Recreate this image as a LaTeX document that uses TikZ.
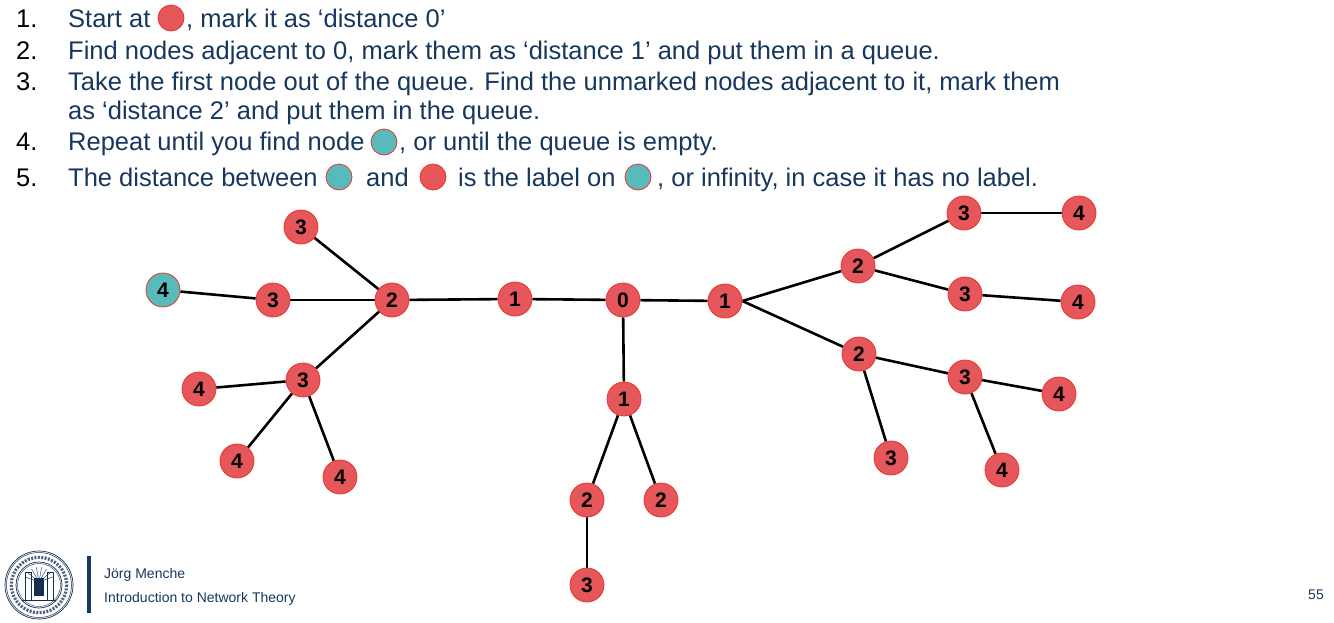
\documentclass[tikz,border=0pt]{standalone}
\usepackage{fontspec}
\setmainfont{Liberation Sans}
\usetikzlibrary{backgrounds}
\definecolor{tx}{HTML}{17375E}
\definecolor{rd}{HTML}{E5575B}
\definecolor{rdl}{HTML}{E8352B}
\definecolor{tl}{HTML}{58BBBB}
\tikzset{
 x=1pt,y=-1pt,
 rn/.style={circle,draw=rdl,fill=rd,line width=.8pt,minimum size=34pt,inner sep=0pt,font=\fontsize{21}{21}\selectfont\bfseries,text=black},
 tn/.style={rn,fill=tl},
 ir/.style={circle,draw=rdl,fill=rd,line width=.8pt,minimum size=26pt,inner sep=0pt},
 it/.style={ir,fill=tl},
 itb/.style={ir,fill=tl,draw=rdl},
 num/.style={anchor=base west,inner sep=0pt,font=\fontsize{25.5}{25.5}\selectfont,text=black},
 body/.style={anchor=base west,inner sep=0pt,font=\fontsize{25.5}{25.5}\selectfont,text=tx},
 foot/.style={anchor=base west,inner sep=0pt,font=\fontsize{14}{14}\selectfont,text=tx},
 edge/.style={line width=2.6pt,black},
 seal/.style={draw=tx!85!black,line width=.7pt}
}
\begin{document}
\begin{tikzpicture}
\useasboundingbox (0,0) rectangle (1334,622);
% text
\node[num] (n1) at (16,27) {1.};
\node[num] (n2) at (16,59) {2.};
\node[num] (n3) at (16,90) {3.};
\node[num] (n4) at (16,150) {4.};
\node[num] (n5) at (16,186) {5.};
\node[body] (t1a) at (68,27) {Start at};
\node[ir] (c1) at (171,18) {};
\node[body] (t1b) at (186,27) {, mark it as ‘distance 0’};
\node[body] (t2) at (68,59) {Find nodes adjacent to 0, mark them as ‘distance 1’ and put them in a queue.};
\node[body] (t3) at (68,90) {Take the first node out of the queue. Find the unmarked nodes adjacent to it, mark them};
\node[body] (t3b) at (68,119) {as ‘distance 2’ and put them in the queue.};
\node[body] (t4a) at (68,150) {Repeat until you find node};
\node[it] (c2) at (384,142) {};
\node[body] (t4b) at (399,150) {, or until the queue is empty.};
\node[body] (t5a) at (68,186) {The distance between};
\node[it] (c3) at (339,177) {};
\node[body] (t5b) at (366,186) {and};
\node[ir] (c4) at (433,177) {};
\node[body] (t5c) at (458,186) {is the label on};
\node[it] (c5) at (638,177) {};
\node[body] (t5d) at (657,186) {, or infinity, in case it has no label.};
% graph nodes
\node[rn] (z) at (623,300) {0};
\node[rn] (a1) at (515,299) {1};
\node[rn] (b1) at (725,301) {1};
\node[rn] (c01) at (624,399) {1};
\node[rn] (a2) at (392,300) {2};
\node[rn] (a3t) at (301,227) {3};
\node[rn] (a3m) at (273,300) {3};
\node[tn] (a4t) at (163,290) {4};
\node[rn] (a3b) at (303,380) {3};
\node[rn] (a4a) at (199,389) {4};
\node[rn] (a4b) at (237,461) {4};
\node[rn] (a4c) at (340,477) {4};
\node[rn] (c2a) at (587,500) {2};
\node[rn] (c2b) at (661,500) {2};
\node[rn] (c3a) at (587,585) {3};
\node[rn] (b2t) at (858,266) {2};
\node[rn] (b2b) at (859,354) {2};
\node[rn] (b3a) at (964,213) {3};
\node[rn] (b4a) at (1079,213) {4};
\node[rn] (b3b) at (965,294) {3};
\node[rn] (b4b) at (1078,302) {4};
\node[rn] (b3c) at (965,377) {3};
\node[rn] (b4c) at (1059,394) {4};
\node[rn] (b4d) at (1002,470) {4};
\node[rn] (b3d) at (891,458) {3};
\begin{scope}[on background layer]
\draw[edge] (z) -- (a1);
\draw[edge] (a1) -- (a2);
\draw[edge] (a2) -- (a3t);
\draw[edge] (a2) -- (a3m);
\draw[edge] (a3m) -- (a4t);
\draw[edge] (a2) -- (a3b);
\draw[edge] (a3b) -- (a4a);
\draw[edge] (a3b) -- (a4b);
\draw[edge] (a3b) -- (a4c);
\draw[edge] (z) -- (b1);
\draw[edge] (z) -- (c01);
\draw[edge] (c01) -- (c2a);
\draw[edge] (c01) -- (c2b);
\draw[edge] (c2a) -- (c3a);
\draw[edge] (b1.east) -- (b2t);
\draw[edge] (b1.east) -- (b2b);
\draw[edge] (b2t) -- (b3a);
\draw[edge] (b2t) -- (b3b);
\draw[edge] (b3a) -- (b4a);
\draw[edge] (b3b) -- (b4b);
\draw[edge] (b2b) -- (b3c);
\draw[edge] (b2b) -- (b3d);
\draw[edge] (b3c) -- (b4c);
\draw[edge] (b3c) -- (b4d);
\end{scope}
% footer
\fill[tx] (87,556) rectangle (91,613);
\node[foot] (f1) at (104,578) {Jörg Menche};
\node[foot] (f2) at (104,602) {Introduction to Network Theory};
\node[foot,anchor=base east] (pg) at (1324,599) {55};
% seal
\draw[seal] (39,585) circle (34);
\draw[seal,line width=.5pt] (39,585) circle (32.5);
\draw[seal] (39,585) circle (23);
\draw[seal,line width=.4pt] (39,585) circle (21.5);
\draw[seal,line width=3.2pt,dash pattern=on 2pt off 1.4pt,opacity=.75] (39,585) circle (27.7);
\draw[seal,line width=.9pt] (25,572) rectangle (31,600);
\draw[seal,line width=.9pt] (47,572) rectangle (53,600);
\draw[seal,line width=.8pt] (22,600) -- (56,600);
\foreach \a in {20,40,...,160}{\draw[seal,line width=.4pt] (39,582) -- ++(-\a:15);}
\fill[tx!85!black] (34,578) rectangle (44,596);
\end{tikzpicture}
\end{document}
